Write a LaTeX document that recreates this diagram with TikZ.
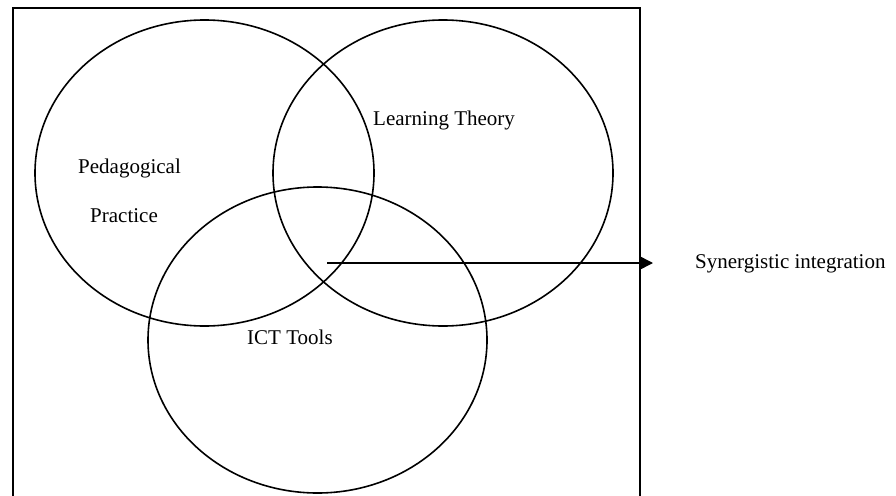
\documentclass[tikz,border=0pt]{standalone}
\usepackage{fontspec}
\setmainfont{Liberation Serif}
\usetikzlibrary{arrows.meta}
\begin{document}
\begin{tikzpicture}[x=1pt,y=-1pt,
  venn/.style={draw=black,line width=1.6pt},
  frame/.style={draw=black,line width=2pt},
  lbl/.style={anchor=base west,inner sep=0pt,font=\fontsize{21}{25}\selectfont},
  conn/.style={draw=black,line width=1.5pt,-{Triangle[length=13pt,width=13pt]}}]
\useasboundingbox (0,0) rectangle (896,495);
\draw[frame] (13,500) -- (13,8) -- (640,8) -- (640,500);
\draw[venn] (204.5,173) ellipse [x radius=169.5, y radius=153];
\draw[venn] (443,173) ellipse [x radius=170, y radius=153];
\draw[venn] (317.5,340) ellipse [x radius=169.5, y radius=153];
\node[lbl] (ped) at (78,173) {Pedagogical};
\node[lbl] (pra) at (90,222) {Practice};
\node[lbl] (lt) at (373,125) {Learning Theory};
\node[lbl] (ict) at (247,344) {ICT Tools};
\node[lbl] (syn) at (695,268) {Synergistic integration};
\coordinate (a0) at (327,263);
\coordinate (a1) at (653,263);
\draw[conn] (a0) -- (a1);
\end{tikzpicture}
\end{document}
